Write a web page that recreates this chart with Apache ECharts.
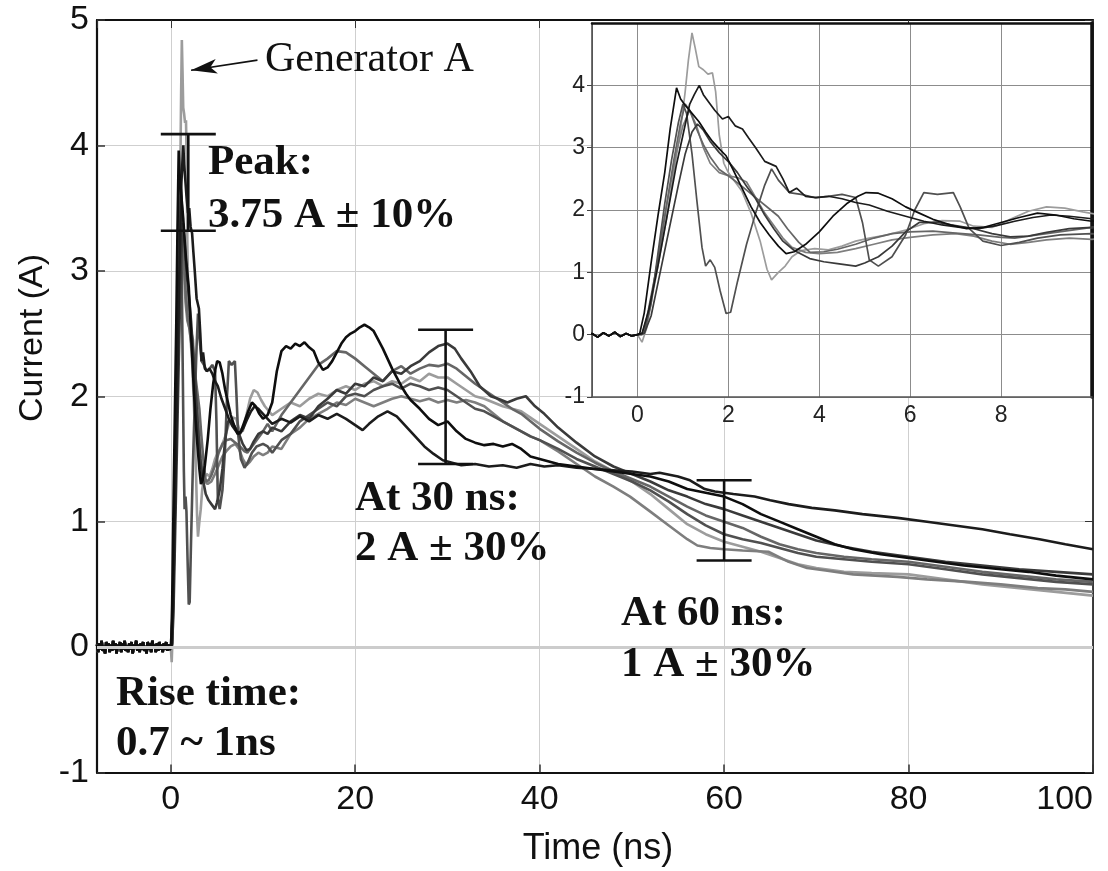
<!DOCTYPE html>
<html>
<head>
<meta charset="utf-8">
<script src="https://cdn.jsdelivr.net/npm/echarts@6/dist/echarts.min.js"></script>
<style>
html,body{margin:0;padding:0;background:#fff;}
#chart{width:1108px;height:871px;}
</style>
</head>
<body>
<div id="chart"></div>
<script>
// ---- Data (time in ns, current in A) ----
const preTrigger = [[-8,0.02],[-7.875,-0.04],[-7.75,0.03],[-7.625,-0.02],[-7.5,0.05],[-7.375,-0.03],[-7.25,0.01],[-7.125,-0.05],[-7,0.04],[-6.875,-0.01],[-6.75,0.03],[-6.625,-0.04],[-6.5,0.02],[-6.375,-0.03],[-6.25,0.05],[-6.125,-0.02],[-6,0.03],[-5.875,-0.05],[-5.75,0.02],[-5.625,-0.01],[-5.5,0.04],[-5.375,-0.04],[-5.25,0.03],[-5.125,-0.02],[-5,0.05],[-4.875,-0.03],[-4.75,0.01],[-4.625,-0.04],[-4.5,0.03],[-4.375,-0.02],[-4.25,0.04],[-4.125,-0.05],[-4,0.02],[-3.875,-0.01],[-3.75,0.05],[-3.625,-0.03],[-3.5,0.02],[-3.375,-0.04],[-3.25,0.03],[-3.125,-0.02],[-3,0.04],[-2.875,-0.03],[-2.75,0.01],[-2.625,-0.05],[-2.5,0.04],[-2.375,-0.02],[-2.25,0.03],[-2.125,-0.04],[-2,0.05],[-1.875,-0.01],[-1.75,0.02],[-1.625,-0.04],[-1.5,0.03],[-1.375,-0.03],[-1.25,0.04],[-1.125,-0.02],[-1,0.02],[-0.875,-0.04],[-0.75,0.03],[-0.625,-0.02],[-0.5,0.04],[-0.375,-0.03],[-0.25,0.02],[-0.125,-0.02],[0,0]];

const generatorA = [[0.1,-0.12],[0.2,0.1],[0.35,0.7],[0.5,1.3],[0.65,1.9],[0.8,2.6],[0.95,3.3],[1.05,3.9],[1.12,4.4],[1.2,4.84],[1.27,4.6],[1.35,4.3],[1.45,4.25],[1.55,4.18],[1.65,4.2],[1.72,3.9],[1.8,3.2],[1.9,2.75],[2.0,2.6],[2.15,2.45],[2.3,2.3],[2.5,1.95],[2.7,1.5],[2.85,1.05],[2.95,0.88],[3.1,1.0],[3.25,1.1],[3.4,1.25],[3.6,1.35],[3.9,1.38],[4.2,1.36],[4.5,1.42],[4.8,1.5],[5.1,1.55],[5.5,1.6],[5.9,1.68],[6.3,1.78],[6.7,1.83],[7.1,1.82],[7.4,1.74],[7.8,1.72],[8.2,1.85],[8.6,1.98],[9.0,2.05],[9.4,2.03],[9.8,1.97],[10.2,1.92],[11,1.85],[12,1.9],[13,1.95],[14,1.92],[15,1.98],[16,2.02],[17,2.0],[18,2.05],[19,2.08],[20,2.05],[21,2.1],[22,2.12],[23,2.08],[24,2.12],[25,2.1],[26,2.15],[27,2.12],[28,2.18],[29,2.15],[30,2.15],[31,2.1],[32,2.05],[33,2.0],[34,1.98],[35,1.95],[36,1.92],[37,1.9],[38,1.88],[39,1.83],[40,1.78],[42,1.68],[44,1.58],[46,1.48],[48,1.4],[50,1.32],[52,1.22],[54,1.1],[56,0.98],[58,0.9],[60,0.84],[62,0.8],[64,0.76],[66,0.71],[68,0.66],[70,0.63],[73,0.6],[76,0.59],[80,0.58],[84,0.54],[88,0.5],[92,0.47],[96,0.44],[100,0.41]];

const traceDeepDip = [[0.15,0.03],[0.3,0.5],[0.45,1.3],[0.6,2.1],[0.75,2.8],[0.9,3.4],[1.0,3.7],[1.08,3.55],[1.2,2.9],[1.3,2.2],[1.42,1.4],[1.5,1.1],[1.6,1.2],[1.7,1.08],[1.82,0.7],[1.95,0.34],[2.05,0.36],[2.2,0.85],[2.4,1.45],[2.6,1.95],[2.8,2.4],[2.95,2.66],[3.1,2.48],[3.34,2.28],[3.6,2.25],[3.9,2.2],[4.2,2.22],[4.5,2.25],[4.8,2.2],[4.95,1.8],[5.1,1.2],[5.3,1.1],[5.6,1.25],[5.9,1.6],[6.1,2.0],[6.3,2.28],[6.6,2.25],[6.95,2.28],[7.1,2.05],[7.3,1.7],[7.6,1.5],[8.0,1.43],[8.4,1.48],[8.8,1.55],[9.3,1.6],[10,1.62],[10.5,1.6],[11,1.55],[12,1.65],[13,1.7],[14,1.8],[15,1.85],[16,1.9],[17,1.95],[18,1.92],[19,2.0],[20,2.02],[21,2.0],[22,2.05],[23,2.08],[24,2.1],[25,2.06],[26,2.1],[27,2.08],[28,2.05],[29,2.07],[30,2.05],[31,2.0],[32,1.95],[33,1.9],[34,1.88],[35,1.84],[36,1.8],[37,1.76],[38,1.72],[39,1.68],[40,1.65],[42,1.58],[44,1.5],[46,1.44],[48,1.38],[50,1.32],[52,1.25],[54,1.16],[56,1.06],[58,0.97],[60,0.9],[62,0.86],[64,0.83],[66,0.79],[68,0.75],[70,0.72],[73,0.7],[76,0.68],[80,0.66],[84,0.62],[88,0.58],[92,0.55],[96,0.52],[100,0.5]];

const traceEarlyBlack = [[0.05,0.02],[0.15,0.35],[0.3,1.15],[0.45,1.9],[0.6,2.6],[0.72,3.3],[0.86,3.96],[0.95,3.78],[1.05,3.68],[1.2,3.55],[1.35,3.42],[1.5,3.25],[1.65,3.1],[1.8,2.98],[1.95,2.87],[2.1,2.65],[2.3,2.35],[2.5,2.05],[2.7,1.8],[2.9,1.6],[3.1,1.42],[3.27,1.3],[3.45,1.33],[3.7,1.45],[4.0,1.65],[4.3,1.9],[4.6,2.1],[4.85,2.22],[5.03,2.28],[5.3,2.27],[5.6,2.18],[5.9,2.05],[6.2,1.95],[6.5,1.85],[6.9,1.76],[7.24,1.7],[7.6,1.72],[8.0,1.8],[8.4,1.88],[8.8,1.95],[9.2,1.92],[9.6,1.86],[10,1.82],[10.5,1.85],[11,1.95],[11.5,2.2],[12,2.36],[12.5,2.4],[13,2.38],[13.5,2.42],[14,2.4],[14.5,2.43],[15,2.39],[15.5,2.36],[16,2.27],[16.5,2.21],[17,2.23],[17.5,2.28],[18,2.35],[18.5,2.42],[19,2.47],[19.5,2.5],[20,2.52],[20.5,2.55],[21,2.57],[21.5,2.55],[22,2.52],[22.5,2.45],[23,2.38],[23.5,2.3],[24,2.22],[24.5,2.15],[25,2.08],[25.5,2.02],[26,1.97],[27,1.9],[28,1.82],[29,1.77],[30,1.8],[31,1.72],[32,1.66],[33,1.63],[34,1.61],[35,1.62],[36,1.6],[37,1.62],[38,1.58],[39,1.52],[40,1.5],[42,1.46],[44,1.44],[46,1.42],[48,1.4],[50,1.38],[52,1.36],[54,1.32],[56,1.26],[58,1.23],[60,1.2],[62,1.14],[64,1.06],[66,1.0],[68,0.94],[70,0.88],[72,0.82],[74,0.78],[77,0.74],[80,0.71],[83,0.68],[86,0.65],[90,0.62],[93,0.6],[96,0.57],[100,0.54]];

const traceSlowBlack = [[0.1,0.02],[0.25,0.4],[0.45,1.1],[0.65,1.9],[0.85,2.7],[1.0,3.2],[1.15,3.7],[1.25,3.85],[1.36,4.0],[1.45,3.85],[1.55,3.75],[1.7,3.6],[1.87,3.46],[2.0,3.5],[2.15,3.35],[2.31,3.3],[2.45,3.15],[2.6,3.0],[2.8,2.78],[3.05,2.7],[3.2,2.5],[3.34,2.28],[3.5,2.35],[3.7,2.22],[3.93,2.2],[4.2,2.22],[4.5,2.18],[4.8,2.12],[5.1,2.08],[5.5,1.98],[5.9,1.9],[6.3,1.82],[6.7,1.76],[7.1,1.72],[7.5,1.7],[7.9,1.75],[8.3,1.82],[8.7,1.88],[9.1,1.92],[9.5,1.9],[10,1.86],[11,1.78],[12,1.82],[13,1.79],[14,1.84],[15,1.8],[16,1.85],[17,1.82],[18,1.86],[19,1.82],[20,1.77],[20.8,1.73],[21.5,1.78],[22.5,1.84],[23.5,1.88],[24.5,1.84],[25.5,1.76],[26.5,1.68],[27.5,1.6],[28.5,1.54],[29.5,1.49],[30.5,1.47],[31.5,1.45],[33,1.46],[34.5,1.44],[36,1.45],[37.5,1.43],[39,1.46],[40.5,1.44],[42,1.45],[44,1.43],[46,1.42],[48,1.41],[50,1.4],[52,1.38],[53,1.39],[55,1.36],[56.3,1.33],[57.9,1.26],[59,1.24],[61,1.22],[63.3,1.2],[65,1.17],[67,1.14],[69.5,1.11],[72,1.09],[75,1.06],[78.8,1.03],[82,1.0],[85,0.97],[88,0.94],[91,0.9],[94.2,0.86],[97,0.82],[100,0.78]];

const traceDarkGray = [[0.15,0.02],[0.3,0.3],[0.5,1.0],[0.7,1.7],[0.9,2.4],[1.05,2.9],[1.2,3.25],[1.32,3.38],[1.45,3.28],[1.6,3.1],[1.8,2.92],[2.02,2.76],[2.2,2.6],[2.4,2.38],[2.6,2.18],[2.8,1.92],[3.0,1.7],[3.2,1.5],[3.45,1.35],[3.79,1.22],[4.1,1.17],[4.4,1.14],[4.8,1.1],[5.0,1.15],[5.3,1.25],[5.6,1.42],[5.9,1.65],[6.2,1.8],[6.6,1.8],[7.0,1.75],[7.4,1.7],[7.8,1.62],[8.2,1.57],[8.6,1.58],[9.0,1.64],[9.5,1.7],[10,1.72],[10.5,1.7],[11,1.75],[12,1.72],[13,1.8],[14,1.85],[15,1.82],[16,1.92],[17,1.98],[18,2.05],[19,2.02],[20,2.1],[21,2.08],[22,2.15],[23,2.12],[24,2.2],[25,2.18],[26,2.24],[27,2.28],[28,2.35],[29,2.4],[30,2.42],[30.8,2.38],[31.5,2.3],[32.5,2.2],[33.5,2.08],[34.7,2.0],[35.5,1.98],[36.5,1.95],[37.5,1.98],[38.5,2.0],[39.5,1.92],[40.5,1.86],[42,1.75],[44,1.63],[46,1.52],[48,1.44],[50,1.38],[52,1.32],[54,1.25],[56,1.2],[58,1.14],[60,1.1],[62,1.05],[64,1.0],[66,0.95],[68,0.9],[70,0.85],[73,0.8],[76,0.76],[80,0.72],[84,0.68],[88,0.65],[92,0.62],[96,0.6],[100,0.58]];

const traceMidGray = [[0.1,0.0],[0.2,0.25],[0.4,1.0],[0.6,1.9],[0.8,2.8],[0.95,3.4],[1.05,3.7],[1.15,3.6],[1.3,3.3],[1.45,3.05],[1.6,2.85],[1.8,2.65],[2.0,2.55],[2.3,2.38],[2.6,2.2],[2.9,2.02],[3.1,1.9],[3.3,1.7],[3.55,1.48],[3.8,1.32],[4.1,1.33],[4.4,1.37],[4.8,1.45],[5.2,1.55],[5.6,1.62],[6.0,1.65],[6.5,1.66],[7.0,1.63],[7.5,1.6],[8.0,1.56],[8.3,1.55],[8.8,1.6],[9.4,1.66],[10,1.72],[10.5,1.78],[11,1.72],[12,1.85],[13,1.95],[14,2.05],[15,2.15],[16,2.25],[17,2.3],[18,2.36],[19,2.35],[20,2.3],[21,2.24],[22,2.18],[23,2.12],[24,2.2],[25,2.24],[26,2.18],[27,2.22],[28,2.25],[29,2.24],[30,2.26],[31,2.22],[32,2.16],[33,2.1],[34,2.05],[35,2.0],[36,1.95],[37,1.9],[38,1.86],[39,1.8],[40,1.74],[42,1.64],[44,1.55],[46,1.47],[48,1.4],[50,1.34],[52,1.28],[54,1.2],[56,1.12],[58,1.05],[60,1.0],[62,0.95],[64,0.88],[66,0.82],[68,0.78],[70,0.75],[73,0.72],[76,0.7],[80,0.68],[84,0.64],[88,0.6],[92,0.57],[96,0.54],[100,0.52]];

const traceLightGray = [[0.1,0.0],[0.25,0.35],[0.45,1.2],[0.65,2.1],[0.85,2.9],[1.0,3.35],[1.15,3.6],[1.3,3.35],[1.45,3.0],[1.6,2.75],[1.8,2.6],[2.0,2.55],[2.2,2.52],[2.4,2.45],[2.6,2.2],[2.8,1.95],[3.0,1.75],[3.2,1.55],[3.4,1.4],[3.7,1.32],[4.0,1.3],[4.4,1.32],[4.8,1.38],[5.2,1.45],[5.6,1.52],[6.0,1.56],[6.5,1.6],[7.0,1.62],[7.4,1.58],[7.8,1.5],[8.2,1.45],[8.6,1.48],[9.0,1.52],[9.5,1.55],[10,1.53],[10.5,1.55],[11,1.6],[12,1.58],[13,1.7],[14,1.75],[15,1.82],[16,1.86],[17,1.9],[18,1.95],[19,1.93],[20,1.98],[21,1.95],[22,1.92],[23,1.95],[24,1.98],[25,2.0],[26,1.98],[27,1.96],[28,1.98],[29,1.95],[30,1.97],[31,1.95],[32,1.97],[33,1.95],[34,1.92],[35,1.86],[36,1.8],[37,1.76],[38,1.72],[39,1.68],[40,1.65],[42,1.56],[44,1.46],[46,1.36],[48,1.28],[49.8,1.2],[52,1.08],[54,0.97],[56,0.86],[57.1,0.81],[58.5,0.79],[60,0.78],[62,0.77],[64.8,0.76],[67,0.68],[69,0.63],[71,0.61],[74,0.58],[78.8,0.56],[82,0.54],[86.5,0.52],[90,0.5],[94,0.47],[97,0.46],[100,0.44]];

// error bars: [time, low, high]
const errorBars = [[1.9,3.32,4.09],[29.8,1.46,2.53],[60,0.69,1.33]];

// arrow pointing at the Generator A spike: [tail, tip] as [time, current]
const arrowPoints = [[9.4,4.68],[2.2,4.6]];

const mainXRange = [-8, 100];
const mainYRange = [-1, 5];
const insetXRange = [-1, 10];
const insetYRange = [-1, 5];

const traces = [
  {name:'Generator A', data:generatorA, color:'#9c9c9c'},
  {name:'Trace 7', data:traceLightGray, color:'#7e7e7e'},
  {name:'Trace 6', data:traceMidGray, color:'#666666'},
  {name:'Trace 2', data:traceDeepDip, color:'#505050'},
  {name:'Trace 5', data:traceDarkGray, color:'#3a3a3a'},
  {name:'Trace 4', data:traceSlowBlack, color:'#1c1c1c'},
  {name:'Trace 3', data:traceEarlyBlack, color:'#0e0e0e'}
];

const SANS = '"Liberation Sans", Arial, Helvetica, sans-serif';
const SERIF = '"Liberation Serif", "Times New Roman", serif';

const chart = echarts.init(document.getElementById('chart'), null, {renderer:'canvas'});

const series = [];
traces.forEach(function(t){
  const full = preTrigger.concat(t.data);
  series.push({
    type:'line', name:t.name, xAxisIndex:0, yAxisIndex:0, data:full,
    showSymbol:false, symbol:'none', z:2,
    lineStyle:{color:t.color, width:2.6}, silent:true, clip:true
  });
  series.push({
    type:'line', name:t.name+' (inset)', xAxisIndex:2, yAxisIndex:2, data:full,
    showSymbol:false, symbol:'none', z:7,
    lineStyle:{color:t.color, width:1.7}, silent:true, clip:true
  });
});
series[0].markLine = {
  silent:true, symbol:['none','arrow'], symbolSize:[11,26],
  label:{show:false},
  lineStyle:{color:'#111', width:1.6, type:'solid'},
  data:[[{coord:arrowPoints[0]},{coord:arrowPoints[1]}]]
};
series.push({
  type:'line', xAxisIndex:0, yAxisIndex:0, data:[], z:1, silent:true,
  markLine:{silent:true, symbol:'none', label:{show:false},
    lineStyle:{color:'#cccccc', width:3, type:'solid'}, data:[{yAxis:0}]}
});
series.push({
  type:'custom', xAxisIndex:0, yAxisIndex:0, data:errorBars, z:9, silent:true,
  encode:{x:0, y:[1,2]},
  renderItem:function(params, api){
    const x = api.value(0), lo = api.value(1), hi = api.value(2);
    const pLo = api.coord([x, lo]), pHi = api.coord([x, hi]);
    const w = 27.5;
    const st = {stroke:'#111', lineWidth:2.6};
    return {type:'group', children:[
      {type:'line', shape:{x1:pLo[0], y1:pLo[1], x2:pHi[0], y2:pHi[1]}, style:st},
      {type:'line', shape:{x1:pHi[0]-w, y1:pHi[1], x2:pHi[0]+w, y2:pHi[1]}, style:st},
      {type:'line', shape:{x1:pLo[0]-w, y1:pLo[1], x2:pLo[0]+w, y2:pLo[1]}, style:st}
    ]};
  }
});

function txt(x, y, s, font){
  return {type:'text', x:x, y:y, z:12, silent:true,
    style:{text:s, font:font, fill:'#111', textAlign:'left', textVerticalAlign:'middle', align:'left', verticalAlign:'middle'}};
}
const BOLD = 'bold 43px ' + SERIF;

const option = {
  animation:false,
  backgroundColor:'#ffffff',
  grid:[
    {left:97, top:20, right:15, bottom:98.5, containLabel:false},
    {left:592, top:23, width:500, height:374, containLabel:false}
  ],
  xAxis:[
    {gridIndex:0, type:'value', min:mainXRange[0], max:mainXRange[1], splitNumber:5, z:1,
      axisLine:{show:true, onZero:false, lineStyle:{color:'#111', width:2.2}},
      axisTick:{show:true, inside:true, length:8, lineStyle:{color:'#333', width:1.5}},
      axisLabel:{show:true, color:'#111', fontSize:34, fontFamily:SANS, margin:10, showMinLabel:false, alignMaxLabel:'right'},
      splitLine:{show:true, lineStyle:{color:'#cfcfcf', width:1}}},
    {gridIndex:0, type:'value', position:'top', min:mainXRange[0], max:mainXRange[1], splitNumber:5, z:1,
      axisLine:{show:true, onZero:false, lineStyle:{color:'#111', width:2.2}},
      axisTick:{show:true, inside:true, length:8, lineStyle:{color:'#333'}},
      axisLabel:{show:false}, splitLine:{show:false}},
    {gridIndex:1, type:'value', min:insetXRange[0], max:insetXRange[1], splitNumber:5, z:6,
      axisLine:{show:true, onZero:false, lineStyle:{color:'#555', width:1.5}},
      axisTick:{show:false},
      axisLabel:{show:true, color:'#222', fontSize:23, fontFamily:SANS, margin:7, showMinLabel:false, showMaxLabel:false},
      splitLine:{show:true, lineStyle:{color:'#8c8c8c', width:1}}},
    {gridIndex:1, type:'value', position:'top', min:insetXRange[0], max:insetXRange[1], splitNumber:5, z:6,
      axisLine:{show:true, onZero:false, lineStyle:{color:'#111', width:2.5}},
      axisTick:{show:false}, axisLabel:{show:false}, splitLine:{show:false}}
  ],
  yAxis:[
    {gridIndex:0, type:'value', min:mainYRange[0], max:mainYRange[1], interval:1, z:1,
      axisLine:{show:true, onZero:false, lineStyle:{color:'#111', width:2.2}},
      axisTick:{show:true, inside:true, length:8, lineStyle:{color:'#333', width:1.5}},
      axisLabel:{show:true, color:'#111', fontSize:34, fontFamily:SANS, margin:8},
      splitLine:{show:true, lineStyle:{color:'#cfcfcf', width:1}}},
    {gridIndex:0, type:'value', position:'right', min:mainYRange[0], max:mainYRange[1], interval:1, z:1,
      axisLine:{show:true, onZero:false, lineStyle:{color:'#111', width:1.6}},
      axisTick:{show:true, inside:true, length:8, lineStyle:{color:'#333'}},
      axisLabel:{show:false}, splitLine:{show:false}},
    {gridIndex:1, type:'value', min:insetYRange[0], max:insetYRange[1], interval:1, z:6,
      axisLine:{show:true, onZero:false, lineStyle:{color:'#444', width:1.5}},
      axisTick:{show:true, inside:false, length:5, lineStyle:{color:'#444'}},
      axisLabel:{show:true, color:'#222', fontSize:23, fontFamily:SANS, margin:7, showMaxLabel:false},
      splitLine:{show:true, lineStyle:{color:'#8c8c8c', width:1}}},
    {gridIndex:1, type:'value', position:'right', min:insetYRange[0], max:insetYRange[1], interval:1, z:6,
      axisLine:{show:true, onZero:false, lineStyle:{color:'#111', width:3.5}},
      axisTick:{show:false}, axisLabel:{show:false}, splitLine:{show:false}}
  ],
  graphic:{elements:[
    {type:'rect', shape:{x:592, y:23, width:500, height:374}, style:{fill:'#ffffff'}, z:4, silent:true},
    {type:'text', x:33, y:338, rotation:Math.PI/2, z:12, silent:true,
      style:{text:'Current (A)', font:'34px ' + SANS, fill:'#111', textAlign:'center', textVerticalAlign:'middle', align:'center', verticalAlign:'middle'}},
    {type:'text', x:598, y:849, z:12, silent:true,
      style:{text:'Time (ns)', font:'36px ' + SANS, fill:'#111', textAlign:'center', textVerticalAlign:'middle', align:'center', verticalAlign:'middle'}},
    txt(265, 60, 'Generator A', '42px ' + SERIF),
    txt(208, 163, 'Peak:', BOLD),
    txt(208, 216, '3.75 A \u00b1 10%', BOLD),
    txt(355, 499, 'At 30 ns:', BOLD),
    txt(355, 549, '2 A \u00b1 30%', BOLD),
    txt(621, 614, 'At 60 ns:', BOLD),
    txt(621, 665, '1 A \u00b1 30%', BOLD),
    txt(116, 694, 'Rise time:', BOLD),
    txt(116, 744, '0.7 ~ 1ns', BOLD)
  ]},
  series:series
};
chart.setOption(option);
</script>
</body>
</html>
